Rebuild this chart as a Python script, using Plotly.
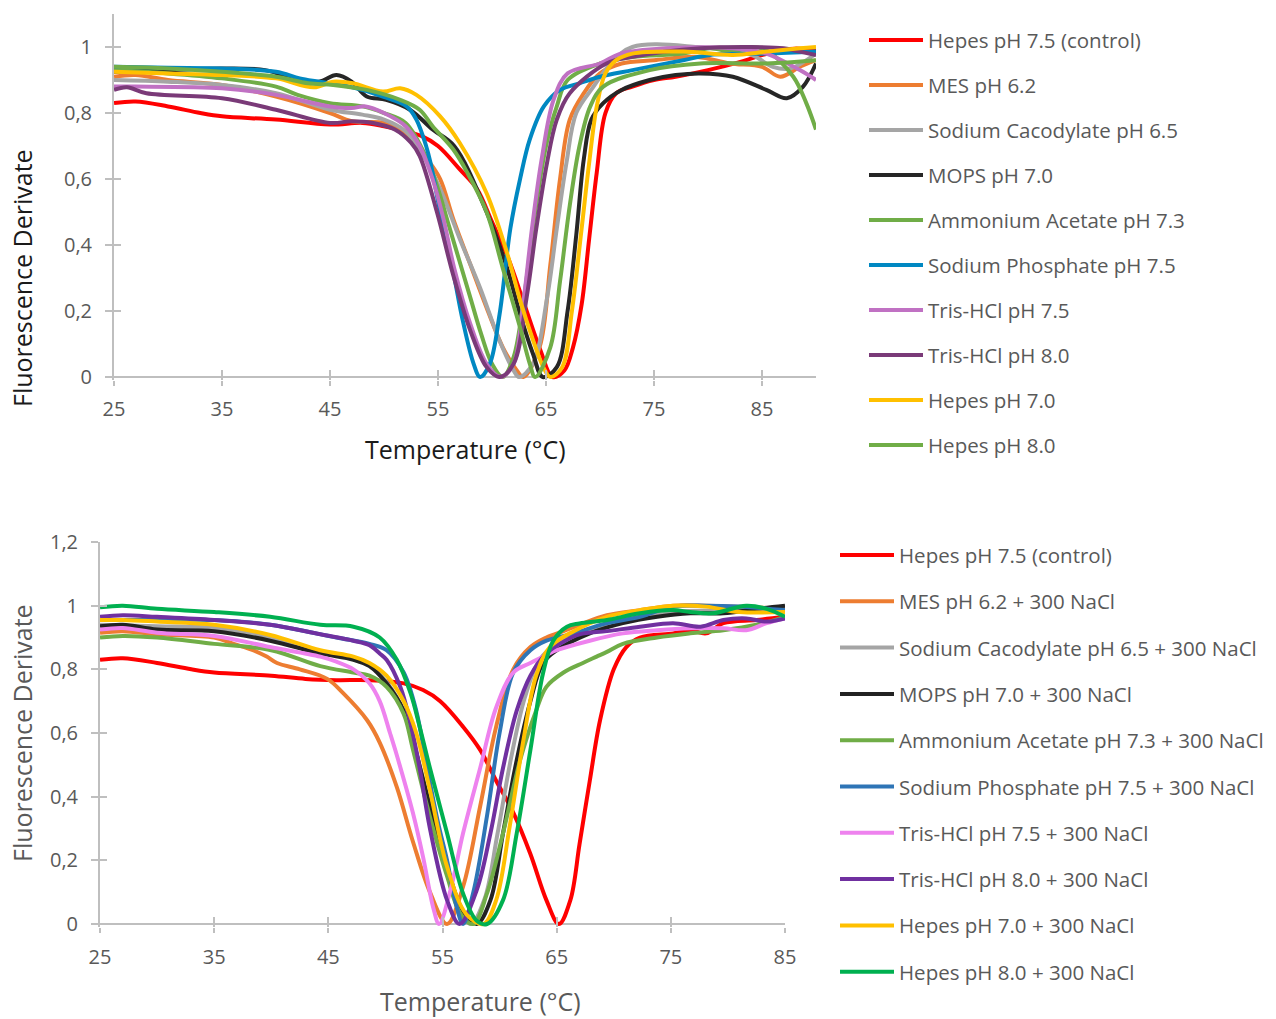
import plotly.graph_objects as go

# ---------------- Buffer screen: melting-curve derivatives ----------------
top_labels = [
    "Hepes pH 7.5 (control)", "MES pH 6.2", "Sodium Cacodylate pH 6.5", "MOPS pH 7.0",
    "Ammonium Acetate pH 7.3", "Sodium Phosphate pH 7.5", "Tris-HCl pH 7.5",
    "Tris-HCl pH 8.0", "Hepes pH 7.0", "Hepes pH 8.0",
]
top_colors = ["#FF0000", "#ED7D31", "#A5A5A5", "#262626", "#70AD47",
              "#0088C2", "#C071C3", "#7A3A78", "#FFC000", "#70AD47"]

t_hepes75_T = [25, 27, 30, 33, 35, 40, 45, 48, 50, 52, 53.5, 55, 57, 58.6, 60, 61.5, 63, 64.5, 65.6,
               66.7, 67.5, 68.3, 69, 69.7, 70.5, 71.5, 73, 75, 77, 80, 83, 86, 88, 90]
t_hepes75_v = [0.83, 0.835, 0.82, 0.80, 0.79, 0.78, 0.765, 0.77, 0.76, 0.745, 0.73, 0.70, 0.63, 0.57, 0.47,
               0.36, 0.22, 0.08, 0.0, 0.02, 0.09, 0.22, 0.42, 0.62, 0.80, 0.86, 0.88, 0.90, 0.91, 0.93,
               0.955, 0.985, 0.995, 0.99]

t_mes_T = [25, 27, 30, 35, 40, 45, 47, 50, 52, 54, 55.2, 56.4, 58, 59.5, 61, 62.3, 62.9, 64.4, 65.4,
           66.3, 67.2, 68.5, 70, 72, 75, 79, 82, 85, 86.7, 88.5, 90]
t_mes_v = [0.91, 0.915, 0.90, 0.885, 0.85, 0.80, 0.775, 0.77, 0.74, 0.66, 0.60, 0.48, 0.34, 0.21, 0.09,
           0.02, 0.0, 0.09, 0.34, 0.60, 0.78, 0.86, 0.92, 0.95, 0.96, 0.97, 0.95, 0.94, 0.91, 0.94, 0.96]

t_cacod_T = [25, 30, 35, 40, 45, 48, 50, 52, 53.3, 55.2, 57, 58.9, 60.7, 62, 62.5, 63.8, 65.1, 66, 66.9,
             67.8, 69.4, 71, 73, 79, 84, 86, 87.6, 90]
t_cacod_v = [0.90, 0.895, 0.885, 0.86, 0.81, 0.795, 0.78, 0.745, 0.69, 0.57, 0.42, 0.27, 0.11, 0.02, 0.0,
             0.04, 0.24, 0.45, 0.65, 0.80, 0.88, 0.95, 1.0, 1.0, 0.976, 0.94, 0.935, 0.98]

t_mops_T = [25, 30, 35, 39, 42, 44, 45.6, 47, 48.4, 50.2, 52.4, 54.5, 56.5, 59.5, 61.4, 62.6, 63.8, 64.7,
            66, 67, 67.8, 68.5, 69.2, 70.3, 72, 74.6, 77, 79.3, 82.3, 85.4, 87.3, 88.8, 90]
t_mops_v = [0.925, 0.93, 0.935, 0.93, 0.90, 0.895, 0.915, 0.895, 0.85, 0.84, 0.81, 0.75, 0.70, 0.50, 0.33,
            0.19, 0.07, 0.0, 0.03, 0.20, 0.43, 0.66, 0.78, 0.83, 0.87, 0.90, 0.915, 0.92, 0.91, 0.87,
            0.845, 0.88, 0.95]

t_ammac_T = [25, 30, 35, 40, 42, 45, 48, 50, 52, 54, 55, 56, 57, 58, 59, 60, 61, 62, 63, 64, 65, 66, 67,
             70, 73, 77.7, 80.2, 82.3, 83.9, 85.4, 87.9, 89.1, 90]
t_ammac_v = [0.93, 0.92, 0.905, 0.88, 0.855, 0.83, 0.82, 0.80, 0.77, 0.66, 0.57, 0.46, 0.35, 0.24, 0.13,
             0.04, 0.0, 0.06, 0.25, 0.50, 0.70, 0.82, 0.90, 0.95, 0.97, 0.98, 0.996, 0.986, 1.0, 0.99,
             0.91, 0.83, 0.75]

t_phos_T = [25, 30, 35, 40, 42.2, 44, 46.8, 49.9, 52.1, 53, 53.9, 54.3, 55.2, 56.4, 57.3, 58.3, 58.9, 59.8,
            60.7, 61.7, 62.6, 63.5, 64.8, 66.3, 68.1, 70, 73, 77.7, 80.2, 85.4, 90]
t_phos_v = [0.94, 0.937, 0.935, 0.925, 0.905, 0.895, 0.88, 0.85, 0.82, 0.78, 0.70, 0.65, 0.50, 0.32, 0.17,
            0.04, 0.0, 0.04, 0.19, 0.45, 0.60, 0.72, 0.82, 0.87, 0.89, 0.91, 0.93, 0.96, 0.976, 0.98, 0.986]

t_tris75_T = [25, 27, 35, 40, 45, 47, 48.3, 50, 52, 53.3, 54.5, 55.5, 56.5, 58, 59.5, 60.8, 62, 62.8, 63.7,
              64.6, 65.7, 67, 70, 71.9, 76.2, 82.3, 85.4, 88.5, 90]
t_tris75_v = [0.88, 0.88, 0.875, 0.855, 0.82, 0.815, 0.82, 0.80, 0.76, 0.70, 0.60, 0.48, 0.33, 0.16, 0.04,
              0.0, 0.04, 0.20, 0.45, 0.66, 0.84, 0.92, 0.95, 0.98, 0.996, 0.996, 0.98, 0.93, 0.90]

t_tris80_T = [25, 26.2, 28, 35, 40, 45, 47, 49, 51, 52.5, 53.3, 54.9, 56.4, 58, 59.5, 60.7, 62, 63.2, 64.1,
              65.1, 66, 67.2, 70.6, 73, 79.3, 83.9, 87, 88.5, 90]
t_tris80_v = [0.87, 0.878, 0.86, 0.845, 0.81, 0.77, 0.775, 0.77, 0.75, 0.71, 0.67, 0.50, 0.31, 0.14, 0.03,
              0.0, 0.04, 0.24, 0.45, 0.65, 0.78, 0.86, 0.95, 0.97, 0.996, 1.0, 0.996, 0.986, 0.976]

t_hepes70_T = [25, 30, 35, 40, 43.5, 45.3, 47.1, 49.9, 51.5, 53, 55.2, 57, 59.5, 61.4, 62.6, 63.8, 64.75,
               65.4, 66.5, 67.4, 68.3, 69, 69.7, 70.5, 71.5, 73, 77.7, 82.3, 85.4, 88.5, 90]
t_hepes70_v = [0.925, 0.92, 0.915, 0.905, 0.878, 0.895, 0.89, 0.865, 0.875, 0.855, 0.79, 0.71, 0.557, 0.375,
               0.233, 0.112, 0.03, 0.0, 0.03, 0.20, 0.45, 0.65, 0.82, 0.92, 0.96, 0.98, 0.986, 0.976,
               0.986, 0.996, 1.0]

t_hepes80_T = [25, 30, 35, 40, 43, 45.3, 48.4, 51.5, 53.3, 54.5, 56.4, 57.7, 59.5, 61, 62.6, 63.5, 64,
               65.4, 66.3, 67.2, 68.1, 69.1, 70.3, 74.6, 79.3, 85.4, 90]
t_hepes80_v = [0.94, 0.935, 0.925, 0.91, 0.89, 0.885, 0.87, 0.84, 0.81, 0.76, 0.69, 0.62, 0.50, 0.33, 0.15,
               0.04, 0.0, 0.09, 0.29, 0.52, 0.70, 0.82, 0.88, 0.93, 0.95, 0.95, 0.96]

top_T = [t_hepes75_T, t_mes_T, t_cacod_T, t_mops_T, t_ammac_T, t_phos_T,
         t_tris75_T, t_tris80_T, t_hepes70_T, t_hepes80_T]
top_v = [t_hepes75_v, t_mes_v, t_cacod_v, t_mops_v, t_ammac_v, t_phos_v,
         t_tris75_v, t_tris80_v, t_hepes70_v, t_hepes80_v]

# ---------------- Same buffers + 300 mM NaCl ----------------
bot_labels = [
    "Hepes pH 7.5 (control)", "MES pH 6.2 + 300 NaCl", "Sodium Cacodylate pH 6.5 + 300 NaCl",
    "MOPS pH 7.0 + 300 NaCl", "Ammonium Acetate pH 7.3 + 300 NaCl",
    "Sodium Phosphate pH 7.5 + 300 NaCl", "Tris-HCl pH 7.5 + 300 NaCl",
    "Tris-HCl pH 8.0 + 300 NaCl", "Hepes pH 7.0 + 300 NaCl", "Hepes pH 8.0 + 300 NaCl",
]
bot_colors = ["#FF0000", "#ED7D31", "#A5A5A5", "#222222", "#70AD47",
              "#2E75B6", "#EE82EE", "#7030A0", "#FFC000", "#00B050"]

b_hepes75_T = [25, 27, 30, 33, 35, 40, 43, 45.7, 48.6, 51.6, 53.3, 54.8, 56.8, 58.3, 59.7, 61.2, 62.7,
               64.1, 65.2, 66.2, 67, 67.9, 68.8, 70, 71.1, 72.3, 75.2, 76.7, 78.1, 79.6, 82.5, 85]
b_hepes75_v = [0.83, 0.835, 0.82, 0.80, 0.79, 0.78, 0.77, 0.766, 0.766, 0.756, 0.735, 0.70, 0.62, 0.547,
               0.45, 0.35, 0.22, 0.075, 0.0, 0.075, 0.25, 0.45, 0.64, 0.80, 0.87, 0.90, 0.913, 0.923,
               0.913, 0.945, 0.955, 0.965]

b_mes_T = [25, 27, 30, 35, 36.7, 38.4, 39.6, 40.5, 42.5, 44.9, 46.3, 48.4, 49.5, 51, 52.4, 53.9, 55.4,
           56.8, 58.3, 59.7, 61.2, 62.7, 64.1, 65.6, 67, 69.4, 72.3, 75.2, 78.1, 85]
b_mes_v = [0.915, 0.92, 0.91, 0.90, 0.88, 0.86, 0.84, 0.82, 0.80, 0.77, 0.725, 0.64, 0.57, 0.43, 0.26, 0.10,
           0.0, 0.117, 0.37, 0.62, 0.80, 0.87, 0.90, 0.92, 0.94, 0.97, 0.986, 1.0, 1.0, 0.99]

b_cacod_T = [25, 30, 35, 40, 44.3, 47.2, 48.6, 50.1, 51.6, 52.4, 53.9, 55.4, 56.6, 57.5, 58.7, 59.8, 61,
             62.2, 63.5, 65, 67, 70, 75, 80, 85]
b_cacod_v = [0.94, 0.935, 0.93, 0.90, 0.855, 0.835, 0.815, 0.76, 0.67, 0.58, 0.37, 0.17, 0.03, 0.0, 0.08,
             0.28, 0.52, 0.71, 0.83, 0.88, 0.91, 0.95, 0.98, 0.985, 0.985]

b_mops_T = [25, 27, 30, 35, 39.9, 44.3, 47.2, 48.6, 50.1, 51.6, 52.4, 53.9, 55.4, 56.8, 58, 59.2, 60.3,
            61.5, 62.7, 63.8, 65, 67.9, 70.8, 73.8, 76.7, 79.6, 82.5, 85]
b_mops_v = [0.935, 0.94, 0.925, 0.92, 0.89, 0.85, 0.83, 0.81, 0.756, 0.67, 0.578, 0.37, 0.18, 0.04, 0.0,
            0.075, 0.285, 0.515, 0.70, 0.82, 0.86, 0.913, 0.945, 0.965, 0.976, 0.976, 0.99, 1.0]

b_ammac_T = [25, 27, 30, 35, 40, 44.3, 47.2, 48.6, 50.1, 51.6, 52.4, 53.9, 55.4, 56.6, 57.7, 58.9, 60.3,
             61.8, 63.2, 64.1, 65.6, 67.3, 68.5, 69.4, 70.8, 73.8, 76.7, 79.6, 82.5, 85]
b_ammac_v = [0.90, 0.905, 0.90, 0.88, 0.86, 0.81, 0.79, 0.78, 0.745, 0.66, 0.55, 0.337, 0.15, 0.03, 0.0,
             0.096, 0.285, 0.515, 0.67, 0.745, 0.79, 0.82, 0.84, 0.855, 0.88, 0.90, 0.913, 0.923,
             0.94, 0.965]

b_phos_T = [25, 30, 35, 39.9, 45.7, 48.6, 50.1, 51.6, 52.7, 53.6, 54.6, 55.4, 56.2, 56.8, 57.7, 58.9, 60,
            61.2, 62.7, 64.1, 66.5, 69.4, 72.3, 75.2, 78.1, 81, 85]
b_phos_v = [0.955, 0.955, 0.955, 0.94, 0.90, 0.88, 0.86, 0.79, 0.67, 0.50, 0.32, 0.20, 0.06, 0.0, 0.10,
            0.34, 0.60, 0.79, 0.86, 0.89, 0.913, 0.945, 0.965, 0.997, 1.0, 0.997, 0.986]

b_tris75_T = [25, 27, 30, 35, 39.9, 44.3, 45.7, 47.2, 48.6, 49.5, 50.4, 51, 52.4, 53.3, 54.2, 54.7, 55.7,
              56.8, 58.3, 59.7, 61.2, 62.7, 64.1, 65, 67.9, 70.8, 73.8, 76.7, 79.6, 81.6, 83.4, 85]
b_tris75_v = [0.925, 0.93, 0.915, 0.905, 0.87, 0.84, 0.824, 0.80, 0.756, 0.70, 0.60, 0.53, 0.35, 0.21,
              0.05, 0.0, 0.107, 0.285, 0.49, 0.68, 0.79, 0.82, 0.845, 0.86, 0.89, 0.913, 0.923, 0.929,
              0.929, 0.923, 0.945, 0.96]

b_tris80_T = [25, 27, 30, 35, 39.9, 44.3, 47.2, 48.6, 49.5, 50.1, 51.3, 52.2, 53, 53.9, 55.4, 56.5, 58,
              59.2, 60.3, 61.5, 62.7, 64.1, 65.6, 67, 69.4, 72.3, 75.2, 77.6, 79.6, 81.6, 83.4, 85]
b_tris80_v = [0.965, 0.97, 0.965, 0.955, 0.94, 0.91, 0.89, 0.876, 0.85, 0.83, 0.745, 0.63, 0.49, 0.30,
              0.075, 0.0, 0.107, 0.285, 0.49, 0.67, 0.78, 0.85, 0.887, 0.91, 0.92, 0.934, 0.945, 0.934,
              0.955, 0.96, 0.95, 0.96]

b_hepes70_T = [25, 27, 30, 35, 39.9, 44.3, 47.2, 48.6, 50.1, 51.6, 52.7, 53.9, 55.4, 57.1, 58.6, 59.7,
               60.9, 62.1, 63.2, 64.4, 66.5, 69.4, 72.3, 75.2, 78.1, 81, 85]
b_hepes70_v = [0.955, 0.955, 0.95, 0.94, 0.908, 0.86, 0.84, 0.82, 0.78, 0.70, 0.60, 0.42, 0.18, 0.03, 0.0,
               0.075, 0.31, 0.58, 0.78, 0.87, 0.92, 0.965, 0.986, 1.0, 0.997, 0.98, 0.98]

b_hepes80_T = [25, 27, 30, 35, 39.9, 44.3, 47.2, 49.5, 51, 52.2, 53, 53.9, 55.4, 56.8, 58, 58.9, 60.3,
               61.5, 62.7, 63.8, 64.7, 65.9, 67, 69.4, 72.3, 75.2, 76.7, 78.7, 81.6, 83.4, 85]
b_hepes80_v = [0.995, 1.0, 0.99, 0.98, 0.965, 0.94, 0.934, 0.90, 0.83, 0.725, 0.62, 0.49, 0.285, 0.096,
               0.01, 0.0, 0.075, 0.285, 0.547, 0.787, 0.89, 0.934, 0.944, 0.955, 0.976, 0.986, 0.98,
               0.976, 1.0, 0.99, 0.965]

bot_T = [b_hepes75_T, b_mes_T, b_cacod_T, b_mops_T, b_ammac_T, b_phos_T,
         b_tris75_T, b_tris80_T, b_hepes70_T, b_hepes80_T]
bot_v = [b_hepes75_v, b_mes_v, b_cacod_v, b_mops_v, b_ammac_v, b_phos_v,
         b_tris75_v, b_tris80_v, b_hepes70_v, b_hepes80_v]

top_yticks = [0, 0.2, 0.4, 0.6, 0.8, 1.0]
top_yticktext = ["0", "0,2", "0,4", "0,6", "0,8", "1"]
bot_yticks = [0, 0.2, 0.4, 0.6, 0.8, 1.0, 1.2]
bot_yticktext = ["0", "0,2", "0,4", "0,6", "0,8", "1", "1,2"]
top_xticks = [25, 35, 45, 55, 65, 75, 85]
bot_xticks = [25, 35, 45, 55, 65, 75, 85]

# ---------------- layout helpers (pixel -> paper) ----------------
W, H = 1276, 1019
FONT = "Open Sans"
AXIS_GREY = "#BFBFBF"
TEXT_GREY = "#595959"


def fx(p):
    return p / W


def fy(p):
    return 1 - p / H


fig = go.Figure()

for T, v, name, col in zip(top_T, top_v, top_labels, top_colors):
    fig.add_trace(go.Scatter(x=T, y=v, name=name, mode="lines", xaxis="x", yaxis="y",
                             line=dict(color=col, width=4, shape="spline", smoothing=1.0),
                             showlegend=False, hoverinfo="x+y+name"))
for T, v, name, col in zip(bot_T, bot_v, bot_labels, bot_colors):
    fig.add_trace(go.Scatter(x=T, y=v, name=name, mode="lines", xaxis="x2", yaxis="y2",
                             line=dict(color=col, width=4, shape="spline", smoothing=1.0),
                             showlegend=False, hoverinfo="x+y+name"))

# empty traces that anchor the overlay axes carrying the inner half of the cross ticks
for xa, ya in [("x3", "y"), ("x", "y3"), ("x4", "y2"), ("x2", "y4")]:
    fig.add_trace(go.Scatter(x=[], y=[], xaxis=xa, yaxis=ya, showlegend=False, hoverinfo="skip"))

tickfont = dict(family=FONT, size=20, color=TEXT_GREY)

top_xdom = [fx(114), fx(816)]
top_ydom = [fy(380), fy(14)]
bot_xdom = [fx(100), fx(785)]
bot_ydom = [fy(927), fy(542)]
top_yrange = [-0.009, 1.1]
bot_yrange = [-0.0094, 1.2]

common_x = dict(showgrid=False, zeroline=False, showline=False, ticks="outside", ticklen=5,
                tickwidth=2, tickcolor=AXIS_GREY, tickfont=tickfont, tickmode="array",
                fixedrange=True, automargin=False)
common_y = dict(showgrid=False, showline=True, linecolor=AXIS_GREY, linewidth=2,
                zeroline=True, zerolinecolor=AXIS_GREY, zerolinewidth=2,
                ticks="outside", ticklen=7, tickwidth=2, tickcolor=AXIS_GREY, tickfont=tickfont,
                tickmode="array", ticklabelstandoff=9, fixedrange=True, automargin=False)
inner_x = dict(showgrid=False, zeroline=False, showline=False, ticks="inside", ticklen=10,
               tickwidth=2, tickcolor=AXIS_GREY, showticklabels=False, tickmode="array",
               fixedrange=True, automargin=False)
inner_y = dict(showgrid=False, zeroline=False, showline=False, ticks="inside", ticklen=7,
               tickwidth=2, tickcolor=AXIS_GREY, showticklabels=False, tickmode="array",
               fixedrange=True, automargin=False)

fig.update_layout(
    width=W, height=H, autosize=False,
    margin=dict(l=0, r=0, t=0, b=0, pad=0, autoexpand=False),
    paper_bgcolor="white", plot_bgcolor="white",
    font=dict(family=FONT, color=TEXT_GREY),
    xaxis=dict(common_x, domain=top_xdom, range=[25, 90], tickvals=top_xticks, anchor="y",
               ticklabelstandoff=6),
    yaxis=dict(common_y, domain=top_ydom, range=top_yrange, tickvals=top_yticks,
               ticktext=top_yticktext, anchor="x"),
    xaxis3=dict(inner_x, overlaying="x", range=[25, 90], tickvals=top_xticks, anchor="y"),
    yaxis3=dict(inner_y, overlaying="y", range=top_yrange, tickvals=top_yticks, anchor="x"),
    xaxis2=dict(common_x, domain=bot_xdom, range=[25, 85], tickvals=bot_xticks, anchor="y2",
                ticklabelstandoff=7),
    yaxis2=dict(common_y, domain=bot_ydom, range=bot_yrange, tickvals=bot_yticks,
                ticktext=bot_yticktext, anchor="x2"),
    xaxis4=dict(inner_x, overlaying="x2", range=[25, 85], tickvals=bot_xticks, anchor="y2"),
    yaxis4=dict(inner_y, overlaying="y2", range=bot_yrange, tickvals=bot_yticks, anchor="x2"),
)

annotations = []
shapes = []

# axis titles
annotations += [
    dict(text="Temperature (°C)", x=fx(465), y=fy(449), xref="paper", yref="paper",
         showarrow=False, xanchor="center", yanchor="middle",
         font=dict(family=FONT, size=25, color="#1A1A1A")),
    dict(text="Fluorescence Derivate", x=fx(22), y=fy(278), xref="paper", yref="paper",
         showarrow=False, xanchor="center", yanchor="middle", textangle=-90,
         font=dict(family=FONT, size=25, color="#1A1A1A")),
    dict(text="Temperature (°C)", x=fx(480), y=0, xref="paper", yref="paper",
         showarrow=False, xanchor="center", yanchor="bottom", borderpad=0,
         font=dict(family=FONT, size=25, color=TEXT_GREY)),
    dict(text="Fluorescence Derivate", x=fx(22), y=fy(733), xref="paper", yref="paper",
         showarrow=False, xanchor="center", yanchor="middle", textangle=-90,
         font=dict(family=FONT, size=25, color=TEXT_GREY)),
]

# legends: coloured line swatch followed by the series name
legend_font = dict(family=FONT, size=20.5, color=TEXT_GREY)
for i, (name, col) in enumerate(zip(top_labels, top_colors)):
    yc = 40 + 45.0 * i
    shapes.append(dict(type="line", xref="paper", yref="paper", x0=fx(869), x1=fx(923),
                       y0=fy(yc), y1=fy(yc), line=dict(color=col, width=4)))
    annotations.append(dict(text=name, x=fx(926), y=fy(yc), xref="paper", yref="paper",
                            showarrow=False, xanchor="left", yanchor="middle", font=legend_font))
for i, (name, col) in enumerate(zip(bot_labels, bot_colors)):
    yc = 555 + 46.3 * i
    shapes.append(dict(type="line", xref="paper", yref="paper", x0=fx(840), x1=fx(894),
                       y0=fy(yc), y1=fy(yc), line=dict(color=col, width=4)))
    annotations.append(dict(text=name, x=fx(897), y=fy(yc), xref="paper", yref="paper",
                            showarrow=False, xanchor="left", yanchor="middle", font=legend_font))

fig.update_layout(annotations=annotations, shapes=shapes)

# the page itself adds no margin around the figure
fig.write_html("out.html",
               post_script="document.body.style.margin='0';"
                           "document.body.style.overflow='hidden';")
